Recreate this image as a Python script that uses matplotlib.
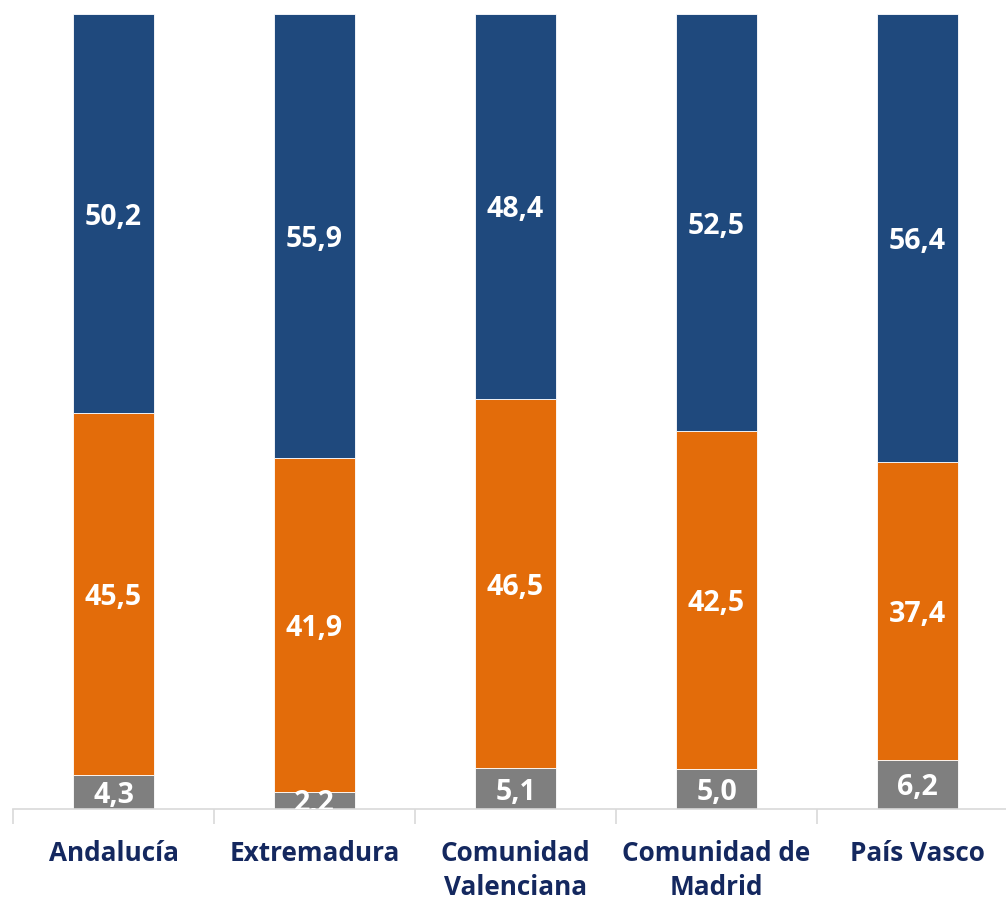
import matplotlib
matplotlib.use("Agg")
import matplotlib.pyplot as plt
import numpy as np

# Stacked 100% bars by region
regions = ["Andalucía", "Extremadura", "Comunidad\nValenciana", "Comunidad de\nMadrid", "País Vasco"]
gray_vals = [4.3, 2.2, 5.1, 5.0, 6.2]
orange_vals = [45.5, 41.9, 46.5, 42.5, 37.4]
blue_vals = [50.2, 55.9, 48.4, 52.5, 56.4]

colors = ["#7F7F7F", "#E36C0A", "#1F497D"]
font = ["Open Sans", "DejaVu Sans"]

fig = plt.figure(figsize=(10.06, 9.0), dpi=100)
ax = fig.add_axes([13 / 1006, 91 / 900, 1005 / 1006, 795 / 900])

x = np.arange(len(regions))
bottom = np.zeros(len(regions))
for vals, c in zip([gray_vals, orange_vals, blue_vals], colors):
    vals = np.array(vals)
    bars = ax.bar(x, vals, width=0.4, bottom=bottom, color=c, edgecolor="white", linewidth=0.6)
    for xi, b, v in zip(x, bottom, vals):
        t = ax.text(xi, b + v / 2, f"{v:.1f}".replace(".", ","), ha="center", va="center_baseline",
                    color="white", fontsize=20.5, fontweight="bold", family=font)
        t.set_clip_on(True)
    bottom = bottom + vals

ax.set_xlim(-0.5, len(regions) - 0.5)
ax.set_ylim(0, 100)

for s in ["top", "right", "left"]:
    ax.spines[s].set_visible(False)
ax.spines["bottom"].set_color("#D9D9D9")
ax.spines["bottom"].set_linewidth(1.2)
ax.set_yticks([])

ax.set_xticks(x)
ax.set_xticklabels(regions, fontsize=18.8, fontweight="bold", color="#14285F", family=font, linespacing=1.37)
ax.tick_params(axis="x", which="major", length=0, pad=22)
ax.set_xticks(np.arange(-0.5, len(regions)), minor=True)
ax.tick_params(axis="x", which="minor", length=11, width=1.2, color="#D9D9D9")

fig.savefig("out.png", dpi=100)
